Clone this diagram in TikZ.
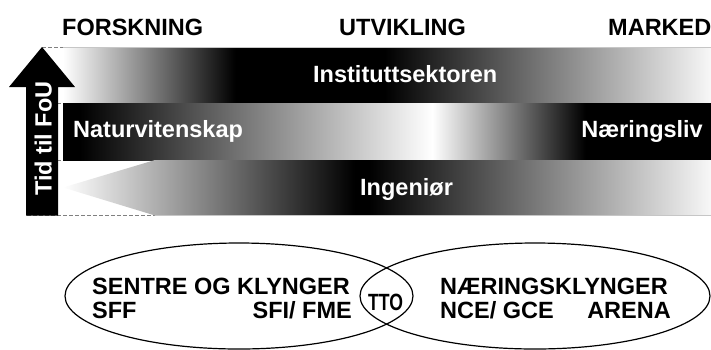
\documentclass[tikz,border=0pt]{standalone}
\usepackage{fontspec}
\setmainfont{Liberation Sans}
\newfontfamily\narrowsans{Liberation Sans}[FakeStretch=0.75]

% horizontal grey ramps; 25bp..75bp span the filled path
\pgfdeclarehorizontalshading{topramp}{100bp}{%
  rgb(0bp)=(1,1,1); rgb(25bp)=(1,1,1); rgb(38.3bp)=(0,0,0);
  rgb(49.8bp)=(0,0,0); rgb(75bp)=(0.97,0.97,0.97); rgb(100bp)=(0.97,0.97,0.97)}
\pgfdeclarehorizontalshading{midramp}{100bp}{%
  rgb(0bp)=(0,0,0); rgb(25bp)=(0,0,0); rgb(26.3bp)=(0,0,0);
  rgb(53.5bp)=(1,1,1); rgb(65.3bp)=(0,0,0); rgb(75bp)=(0,0,0); rgb(100bp)=(0,0,0)}
\pgfdeclarehorizontalshading{lowramp}{100bp}{%
  rgb(0bp)=(1,1,1); rgb(25bp)=(1,1,1); rgb(47.5bp)=(0,0,0);
  rgb(48.6bp)=(0,0,0); rgb(75bp)=(0.97,0.97,0.97); rgb(100bp)=(0.97,0.97,0.97)}

\tikzset{
  heading/.style={font=\bfseries\fontsize{23.5}{26}\selectfont, inner sep=0pt},
  bandlabel/.style={heading, text=white},
  clusterlabel/.style={heading},
  guide/.style={gray, line width=0.8pt, dash pattern=on 3.5pt off 2.5pt},
  edgeline/.style={gray!45, line width=0.6pt},
  cluster/.style={line width=1.2pt}
}

\begin{document}
\begin{tikzpicture}[x=1pt, y=-1pt]
\useasboundingbox (0,0) rectangle (711,349);

% band corners
\coordinate (topNW) at (63,47.5);
\coordinate (topNE) at (711,47.5);
\coordinate (midNW) at (63,103);
\coordinate (midSW) at (63,160);
\coordinate (lowTip) at (63,187.5);
\coordinate (lowN) at (155,160);
\coordinate (lowS) at (155,215.5);
\coordinate (lowSE) at (711,215.5);

% guide lines running from the arrow to the bands
\coordinate (g1) at (42,47.5);
\coordinate (g2) at (27,103);
\coordinate (g3) at (27,160);
\coordinate (g4) at (27,215.5);
\draw[guide] (g1) -- (topNW);
\draw[guide] (g2) -- (midNW);
\draw[guide] (g3) -- (midSW);
\draw[guide] (g4) -- (lowS);

% the three bands
\shade[shading=topramp] (topNW) rectangle (711,103);
\shade[shading=midramp] (midNW) rectangle (711,160);
\shade[shading=lowramp] (lowTip) -- (lowN) -- (711,160) -- (lowSE) -- (lowS) -- cycle;
\draw[edgeline] (topNW) -- (topNE);
\draw[edgeline] (lowS) -- (lowSE);

% time arrow
\fill[black] (26,215.5) -- (26,87) -- (9,87) -- (42,47) -- (75,87)
  -- (58,87) -- (58,215.5) -- cycle;
\node[bandlabel, rotate=90, anchor=base west] (fou) at (51.5,196) {Tid til FoU};

% column headings
\node[heading, anchor=base west] (forsk) at (62,35) {FORSKNING};
\node[heading, anchor=base west] (utv) at (339,35) {UTVIKLING};
\node[heading, anchor=base west] (marked) at (608,35) {MARKED};

% band labels
\node[bandlabel, anchor=base west] (inst) at (313,82.5) {Instituttsektoren};
\node[bandlabel, anchor=base west] (natur) at (73,137) {Naturvitenskap};
\node[bandlabel, anchor=base east] (naer) at (703,137.5) {Næringsliv};
\node[bandlabel, anchor=base west] (ing) at (360,195) {Ingeniør};

% overlapping clusters
\draw[cluster] (239,296) ellipse [x radius=174, y radius=53];
\draw[cluster] (535,296) ellipse [x radius=175, y radius=53];

\node[clusterlabel, anchor=base west] (sentre) at (92,294.5) {SENTRE OG KLYNGER};
\node[clusterlabel, anchor=base west] (sff) at (92,318.5) {SFF};
\node[clusterlabel, anchor=base east] (sfi) at (352,318.5) {SFI/ FME};
\node[heading, font=\narrowsans\bfseries\fontsize{23.5}{26}\selectfont, anchor=base] (tto) at (385.5,310.5) {TTO};
\node[clusterlabel, anchor=base west] (naerk) at (440,294.5) {NÆRINGSKLYNGER};
\node[clusterlabel, anchor=base west] (nce) at (440,318.5) {NCE/ GCE};
\node[clusterlabel, anchor=base east] (arena) at (671,318.5) {ARENA};
\end{tikzpicture}
\end{document}
